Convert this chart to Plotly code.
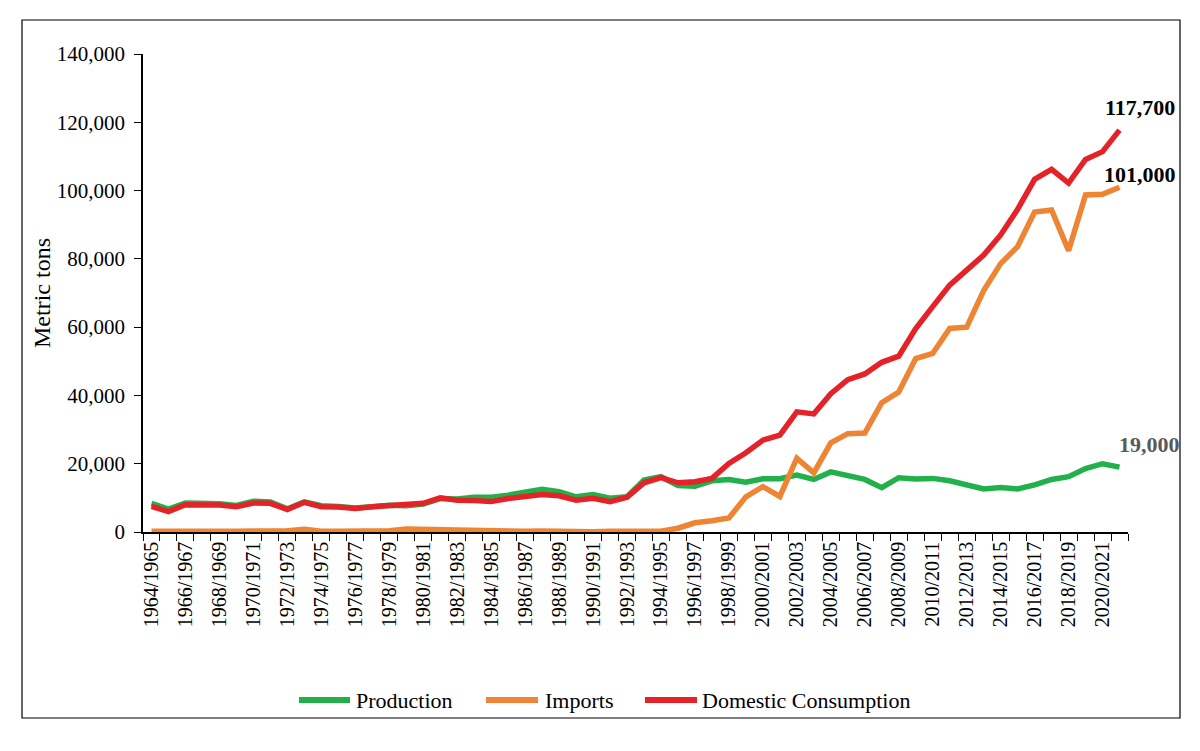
import plotly.graph_objects as go

years = [f"{y}/{y+1}" for y in range(1964, 2022)]

production = [8400, 6700, 8500, 8500, 8300, 7800, 9000, 8800, 6800, 8800,
              7700, 7500, 7000, 7400, 7800, 7700, 8200, 9800, 9700, 10200,
              10200, 10800, 11800, 12500, 11800, 10300, 11000, 9900, 10300, 15200,
              16200, 13600, 13400, 15000, 15400, 14600, 15600, 15600, 16700, 15400,
              17600, 16700, 15400, 13000, 15900, 15500, 15700, 15000, 13800, 12600,
              13000, 12600, 13800, 15400, 16200, 18600, 20000, 19000]

imports = [200, 100, 200, 200, 200, 200, 200, 200, 400, 800,
           200, 200, 300, 200, 400, 900, 800, 700, 200, 200,
           200, 300, 200, 300, 100, 100, 100, 200, 200, 200,
           200, 1100, 2700, 3300, 4100, 10300, 13300, 10400, 21600, 17300,
           26100, 28800, 29000, 37900, 41000, 50800, 52300, 59600, 60000, 70700,
           78600, 83600, 93700, 94300, 82400, 98700, 98900, 101000]

consumption = [7500, 6000, 8000, 8000, 7900, 7400, 8500, 8400, 6600, 8700,
               7400, 7300, 6900, 7400, 7800, 8100, 8400, 10000, 9300, 9200,
               8900, 9800, 10300, 11000, 10600, 9300, 9900, 8900, 10200, 14400,
               15900, 14400, 14700, 15700, 20100, 23200, 26900, 28400, 35200, 34600,
               40500, 44600, 46300, 49700, 51500, 59600, 66000, 72300, 76700, 81100,
               87000, 94500, 103300, 106200, 102200, 109100, 111400, 117700]

series_names = ["Production", "Imports", "Domestic Consumption"]
colors = ["#22B04B", "#EE8535", "#E52228"]

tick_text = [y if i % 2 == 0 else "" for i, y in enumerate(years)]
y_ticks = [0, 20000, 40000, 60000, 80000, 100000, 120000, 140000]

FONT = "Liberation Serif, Times New Roman, serif"

# plot area in page pixels (page body has an 8px margin)
PX0, PX1, PY0, PY1 = 143, 1128, 54, 532


def px(x):
    return (x - PX0) / (PX1 - PX0)


def py(y):
    return (PY1 - y) / (PY1 - PY0)


fig = go.Figure()
for name, vals, col in zip(series_names, [production, imports, consumption], colors):
    fig.add_trace(go.Scatter(x=years, y=vals, mode="lines", name=name,
                             line=dict(color=col, width=5.5), showlegend=False))

# end labels
end_labels = [(consumption[-1], "#000000", 20, 23),
              (imports[-1], "#000000", 20, 13),
              (production[-1], "#595959", 30, 23)]
for val, col, xs, ys in end_labels:
    fig.add_annotation(x=years[-1], y=val, xref="x", yref="y",
                       text=f"<b>{val:,}</b>", showarrow=False,
                       xanchor="center", yanchor="middle", xshift=xs, yshift=ys,
                       font=dict(family=FONT, size=22, color=col))

fig.add_annotation(x=px(42), y=py(293), xref="paper", yref="paper",
                   text="Metric tons", textangle=-90, showarrow=False,
                   xanchor="center", yanchor="middle",
                   font=dict(family=FONT, size=24, color="#000000"))

# custom legend
leg_y = py(700)
leg_items = [(299, 350, 354), (486, 538, 543), (645, 697, 700)]
for (lx0, lx1, tx), name, col in zip(leg_items, series_names, colors):
    fig.add_shape(type="line", xref="paper", yref="paper",
                  x0=px(lx0), x1=px(lx1), y0=leg_y, y1=leg_y,
                  line=dict(color=col, width=6))
    fig.add_annotation(x=px(tx), y=leg_y, xref="paper", yref="paper",
                       text=name, showarrow=False, xanchor="left", yanchor="middle",
                       font=dict(family=FONT, size=22, color="#000000"))

# outer border
fig.add_shape(type="rect", xref="paper", yref="paper",
              x0=px(22), x1=px(1180), y0=py(718), y1=py(20),
              line=dict(color="#000000", width=1.2))

fig.update_layout(
    width=1200, height=751,
    margin=dict(l=PX0 - 8, r=1200 - PX1 + 8, t=PY0 - 8, b=751 - PY1 + 8),
    paper_bgcolor="white", plot_bgcolor="white",
    font=dict(family=FONT, size=20, color="#000000"),
    showlegend=False,
    xaxis=dict(type="category", tickmode="array", tickvals=years, ticktext=tick_text,
               tickangle=-90, tickson="boundaries", ticks="outside", ticklen=7,
               tickcolor="#000000", showline=True, linecolor="#000000", linewidth=1.5,
               showgrid=False, range=[-0.5, len(years) - 0.5],
               tickfont=dict(family=FONT, size=20)),
    yaxis=dict(range=[0, 140000], tickvals=y_ticks,
               ticktext=[f"{v:,}" for v in y_ticks], ticks="outside", ticklen=7,
               tickcolor="#000000", showline=True, linecolor="#000000", linewidth=1.5,
               showgrid=False, zeroline=False, ticklabelstandoff=5,
               tickfont=dict(family=FONT, size=21)),
)

fig.write_html("out.html")
